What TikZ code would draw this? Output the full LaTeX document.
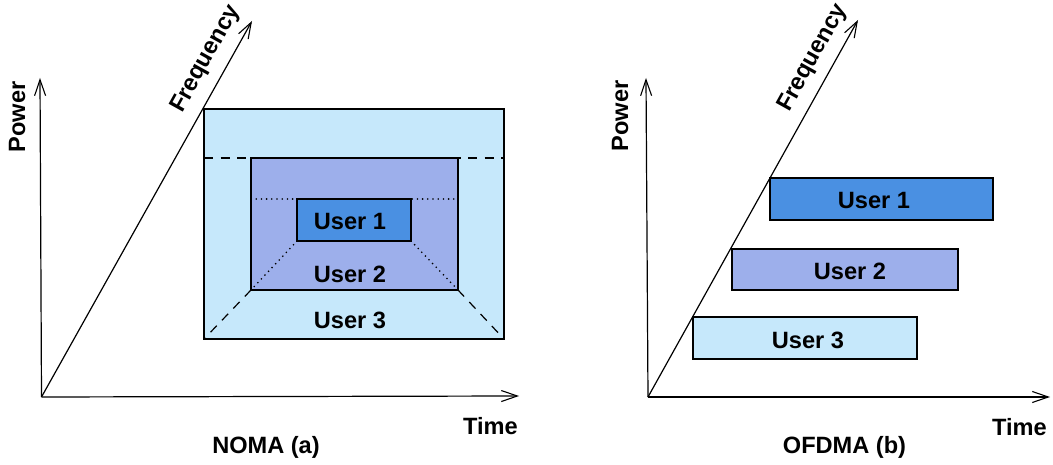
\documentclass[tikz,border=0pt]{standalone}
\usepackage{fontspec}
\setmainfont{Liberation Sans}
\usepackage{tikz}
\usetikzlibrary{arrows.meta}

\definecolor{userthree}{HTML}{C6E8FB}
\definecolor{usertwo}{HTML}{9DAFEB}
\definecolor{userone}{HTML}{4A90E2}

\tikzset{
  axis/.style={line width=1.2pt,-{Straight Barb[length=16pt,width=11pt,line width=1.1pt]}},
  band/.style={draw,line width=1.2pt,outer sep=0pt,inner sep=0pt},
  dashline/.style={line width=1.2pt,dash pattern=on 9pt off 7.5pt},
  dotline/.style={line width=1.8pt,line cap=round,dash pattern=on 0pt off 5.2pt},
  lbl/.style={inner sep=0pt}
}

\begin{document}
\begin{tikzpicture}[x=1pt,y=-1pt,font=\fontsize{23.6}{28}\selectfont\bfseries]
  \useasboundingbox (0,0) rectangle (1053,465);
  % NOMA (a)
  \coordinate (OA) at (41.5,397);
  \coordinate (PA) at (40,78);
  \coordinate (TA) at (519,396);
  \coordinate (FA) at (252,21);
  \draw[axis] (OA) -- (PA);
  \draw[axis] (OA) -- (TA);
  \draw[axis] (OA) -- (FA);
  \node[lbl,rotate=90] (powA) at (17,117) {Power};
  \node[lbl,rotate=61] (freqA) at (206,59) {Frequency};
  \node[lbl] (timeA) at (490.5,426) {Time};
  \node[lbl] (capA) at (266,447) {NOMA (a)};
  \node[band,fill=userthree,minimum width=300pt,minimum height=230pt] (n3) at (354,224) {};
  \draw[dashline] (n3.west |- 0,158) -- (n3.east |- 0,158);
  \node[band,fill=usertwo,minimum width=207pt,minimum height=132pt] (n2) at (354.5,224) {};
  \draw[dashline] (n2.south west) -- (n3.south west);
  \draw[dashline] (n2.south east) -- (n3.south east);
  \draw[dotline] (n2.west |- 0,199) -- (n2.east |- 0,199);
  \node[band,fill=userone,minimum width=114pt,minimum height=42pt] (n1) at (354,220) {};
  \draw[dotline] (n1.south west) -- (n2.south west);
  \draw[dotline] (n1.south east) -- (n2.south east);
  \node[lbl] (u1A) at (350,221) {User 1};
  \node[lbl] (u2A) at (350,274) {User 2};
  \node[lbl] (u3A) at (350,320) {User 3};
  % OFDMA (b)
  \coordinate (OB) at (648,397);
  \coordinate (PB) at (646,78);
  \coordinate (TB) at (1050,397);
  \coordinate (FB) at (858,20);
  \draw[axis] (OB) -- (PB);
  \draw[axis] (OB) -- (TB);
  \draw[axis] (OB) -- (FB);
  \node[lbl,rotate=90] (powB) at (620,116) {Power};
  \node[lbl,rotate=61] (freqB) at (813,58) {Frequency};
  \node[lbl] (timeB) at (1019.5,427) {Time};
  \node[lbl] (capB) at (844.5,447) {OFDMA (b)};
  \node[band,fill=userone,minimum width=223pt,minimum height=42pt] (b1) at (881.5,199) {};
  \node[band,fill=usertwo,minimum width=226pt,minimum height=41pt] (b2) at (845,269.5) {};
  \node[band,fill=userthree,minimum width=224pt,minimum height=42pt] (b3) at (805,338) {};
  \node[lbl] (u1B) at (874,200) {User 1};
  \node[lbl] (u2B) at (850,271) {User 2};
  \node[lbl] (u3B) at (808,340) {User 3};
\end{tikzpicture}
\end{document}
